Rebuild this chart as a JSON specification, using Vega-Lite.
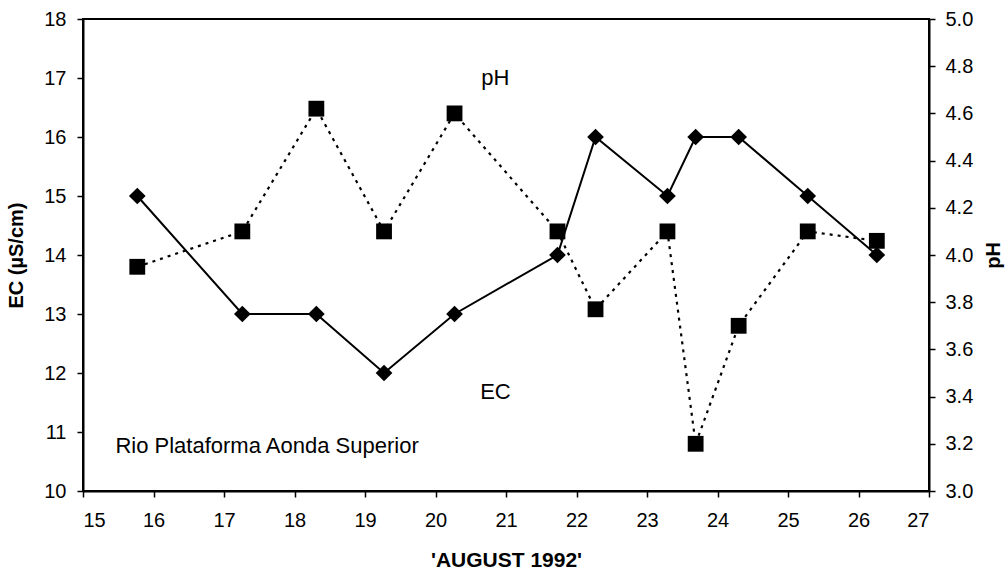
{
  "$schema": "https://vega.github.io/schema/vega-lite/v6.json",
  "width": 846,
  "height": 472,
  "autosize": {"type": "none"},
  "padding": {"left": 83, "top": 19, "right": 79, "bottom": 85},
  "background": "white",
  "config": {
    "font": "Liberation Sans",
    "view": {"stroke": "black", "strokeWidth": 2},
    "axis": {
      "domainColor": "black", "domainWidth": 2, "tickColor": "black", "tickWidth": 1.5,
      "tickSize": 6, "labelColor": "black", "labelFontSize": 20, "titleFontSize": 20,
      "titleFontWeight": "bold", "titleColor": "black", "grid": false, "labelFont": "Liberation Sans", "titleFont": "Liberation Sans"
    }
  },
  "datasets": {
    "obs": [
      {"day": 15.77, "EC": 15, "pH": 3.95},
      {"day": 17.26, "EC": 13, "pH": 4.1},
      {"day": 18.31, "EC": 13, "pH": 4.62},
      {"day": 19.27, "EC": 12, "pH": 4.1},
      {"day": 20.27, "EC": 13, "pH": 4.6},
      {"day": 21.73, "EC": 14, "pH": 4.1},
      {"day": 22.27, "EC": 16, "pH": 3.77},
      {"day": 23.29, "EC": 15, "pH": 4.1},
      {"day": 23.69, "EC": 16, "pH": 3.2},
      {"day": 24.3, "EC": 16, "pH": 3.7},
      {"day": 25.28, "EC": 15, "pH": 4.1},
      {"day": 26.26, "EC": 14, "pH": 4.06}
    ],
    "centerNotes": [
      {"day": 20.85, "val": 17.0, "label": "pH"},
      {"day": 20.85, "val": 11.68, "label": "EC"}
    ],
    "leftNotes": [
      {"day": 15.46, "val": 10.76, "label": "Rio Plataforma Aonda Superior"}
    ]
  },
  "layer": [
    {
      "layer": [
        {
          "data": {"name": "obs"},
          "mark": {"type": "line", "color": "black", "strokeWidth": 2},
          "encoding": {
            "x": {"field": "day", "type": "quantitative", "scale": {"domain": [15, 27], "nice": false, "zero": false},
                  "axis": {"values": [15,16,17,18,19,20,21,22,23,24,25,26,27], "format": "d", "title": "'AUGUST 1992'", "titleFontSize": 21, "titlePadding": 19, "labelPadding": 13}},
            "y": {"field": "EC", "type": "quantitative", "scale": {"domain": [10, 18], "nice": false, "zero": false},
                  "axis": {"values": [10,11,12,13,14,15,16,17,18], "format": "d", "title": "EC (µS/cm)", "titlePadding": 17, "labelPadding": 11}}
          }
        },
        {
          "data": {"name": "obs"},
          "mark": {"type": "point", "shape": "diamond", "filled": true, "color": "black", "size": 280, "opacity": 1},
          "encoding": {
            "x": {"field": "day", "type": "quantitative"},
            "y": {"field": "EC", "type": "quantitative"}
          }
        },
        {
          "data": {"name": "centerNotes"},
          "mark": {"type": "text", "fontSize": 22, "color": "black", "baseline": "middle", "align": "center", "font": "Liberation Sans"},
          "encoding": {
            "x": {"field": "day", "type": "quantitative"},
            "y": {"field": "val", "type": "quantitative"},
            "text": {"field": "label"}
          }
        },
        {
          "data": {"name": "leftNotes"},
          "mark": {"type": "text", "fontSize": 22, "color": "black", "baseline": "middle", "align": "left", "font": "Liberation Sans"},
          "encoding": {
            "x": {"field": "day", "type": "quantitative"},
            "y": {"field": "val", "type": "quantitative"},
            "text": {"field": "label"}
          }
        }
      ]
    },
    {
      "layer": [
        {
          "data": {"name": "obs"},
          "mark": {"type": "line", "color": "black", "strokeWidth": 2.2, "strokeDash": [3, 5]},
          "encoding": {
            "x": {"field": "day", "type": "quantitative"},
            "y": {"field": "pH", "type": "quantitative", "scale": {"domain": [3, 5], "nice": false, "zero": false},
                  "axis": {"orient": "right", "values": [3,3.2,3.4,3.6,3.8,4,4.2,4.4,4.6,4.8,5], "format": ".1f", "title": "pH", "titleAngle": 270, "titleBaseline": "top", "titlePadding": 11, "labelPadding": 10}}
          }
        },
        {
          "data": {"name": "obs"},
          "mark": {"type": "point", "shape": "square", "filled": true, "color": "black", "size": 250, "opacity": 1},
          "encoding": {
            "x": {"field": "day", "type": "quantitative"},
            "y": {"field": "pH", "type": "quantitative"}
          }
        }
      ]
    }
  ],
  "resolve": {"scale": {"y": "independent"}}
}
